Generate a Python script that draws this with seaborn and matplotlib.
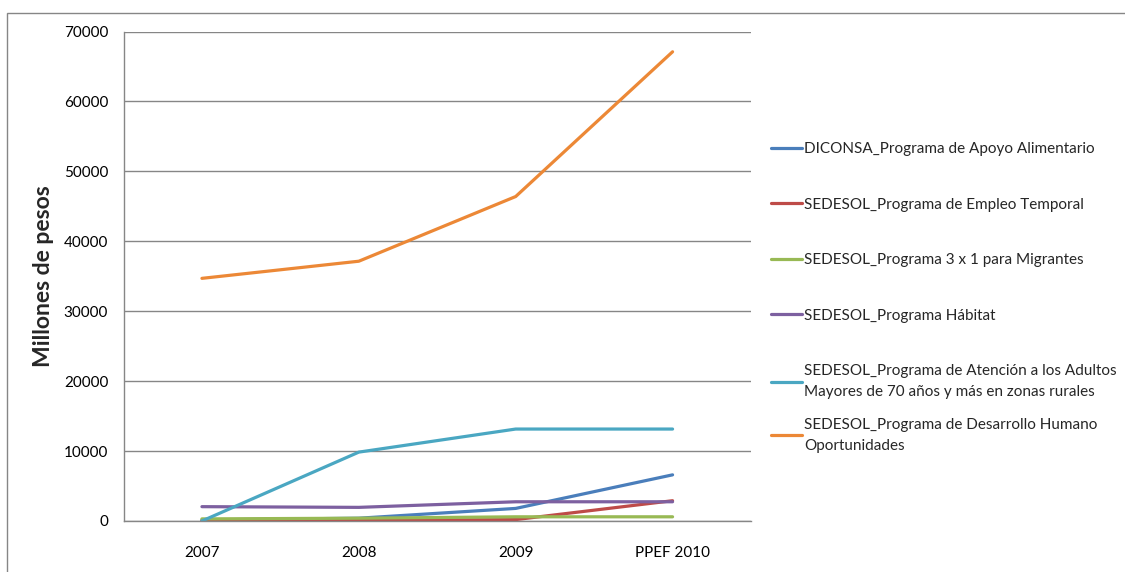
import matplotlib
matplotlib.use("Agg")
import matplotlib.pyplot as plt
import seaborn as sns
import pandas as pd
from matplotlib.patches import Rectangle

years = ["2007", "2008", "2009", "PPEF 2010"]
series_names = [
    "DICONSA_Programa de Apoyo Alimentario",
    "SEDESOL_Programa de Empleo Temporal",
    "SEDESOL_Programa 3 x 1 para Migrantes",
    "SEDESOL_Programa Hábitat",
    "SEDESOL_Programa de Atención a los Adultos\nMayores de 70 años y más en zonas rurales",
    "SEDESOL_Programa de Desarrollo Humano\nOportunidades",
]
diconsa = [150, 400, 1800, 6600]
empleo = [50, 100, 200, 2900]
migrantes = [300, 400, 600, 600]
habitat = [2050, 1950, 2750, 2750]
adultos = [0, 9850, 13150, 13150]
oportunidades = [34700, 37150, 46400, 67100]
colors = ["#4A7EBB", "#BE4B48", "#98B954", "#7D60A0", "#4AA7C2", "#EC8836"]

all_values = [diconsa, empleo, migrantes, habitat, adultos, oportunidades]
rows = []
for name, vals in zip(series_names, all_values):
    for y, v in zip(years, vals):
        rows.append({"Año": y, "Valor": v, "Serie": name})
df = pd.DataFrame(rows)

sns.set_theme(style="white")
plt.rcParams["font.family"] = ["Lato", "DejaVu Sans"]

fig = plt.figure(figsize=(11.25, 5.72), dpi=100)
W, H = 1125, 572
ax = fig.add_axes([123.5 / W, 1 - 521 / H, (751 - 123.5) / W, (521 - 31.5) / H])

sns.lineplot(data=df, x="Año", y="Valor", hue="Serie", hue_order=series_names,
             palette=colors, linewidth=2.3, sort=False, ax=ax, legend=True)

ax.set_xlim(-0.5, 3.5)
ax.set_ylim(0, 70000)
ax.set_yticks(range(0, 70001, 10000))
ax.yaxis.grid(True, color="#868686", linewidth=1.0)
ax.xaxis.grid(False)
ax.set_axisbelow(True)
for s in ["top", "right"]:
    ax.spines[s].set_visible(False)
for s in ["left", "bottom"]:
    ax.spines[s].set_color("#868686")
    ax.spines[s].set_linewidth(1.0)
ax.tick_params(axis="both", length=0, labelsize=11, colors="black")
ax.tick_params(axis="x", pad=18)
ax.tick_params(axis="y", pad=11)
ax.set_xlabel("")
ax.set_ylabel("Millones de pesos", fontsize=16.5, fontweight="bold")
ax.yaxis.set_label_coords(-0.11, 0.5)

handles, labels = ax.get_legend_handles_labels()
leg_kw = dict(bbox_transform=fig.transFigure, frameon=False, fontsize=11,
              handlelength=2.0, handletextpad=0.15, labelspacing=2.72, borderpad=0,
              borderaxespad=0, loc="upper left")
leg1 = ax.legend(handles[:5], labels[:5], bbox_to_anchor=(771 / W, 1 - 142 / H), **leg_kw)
for t in leg1.get_texts():
    t.set_linespacing(1.6)
ax.add_artist(leg1)
leg2 = ax.legend(handles[5:], labels[5:], bbox_to_anchor=(771 / W, 1 - 418 / H), **leg_kw)
for t in leg2.get_texts():
    t.set_linespacing(1.6)

fig.patches.append(Rectangle((7 / W, -0.1), 1.2, 1 - 12.5 / H + 0.1, transform=fig.transFigure,
                             fill=False, edgecolor="#868686", linewidth=1.0))

fig.savefig("out.png", dpi=100)
